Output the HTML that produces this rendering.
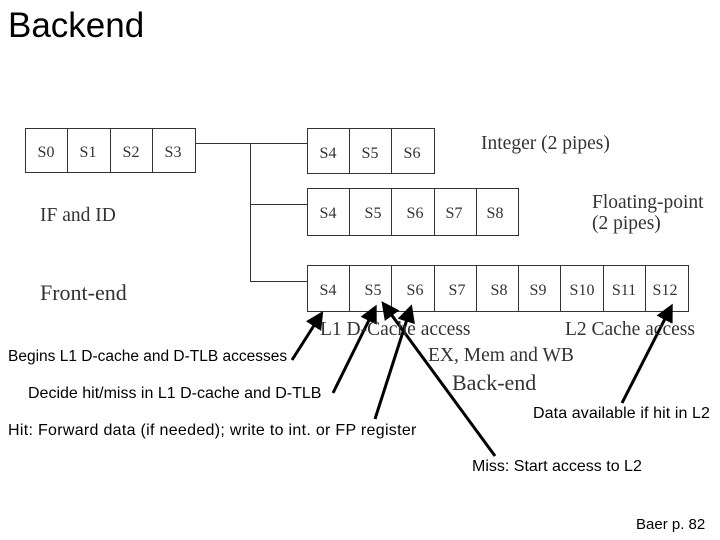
<!DOCTYPE html>
<html><head><style>
body{margin:0;width:720px;height:540px;background:#fff;position:relative;overflow:hidden;font-family:"Liberation Serif",serif;}
.t{position:absolute;white-space:nowrap;color:#333;}
.s{font-family:"Liberation Sans",sans-serif;color:#000;}
</style></head><body>
<div class="t s" style="left:8px;top:6px;font-size:35px;">Backend</div>
<svg width="720" height="540" style="position:absolute;left:0;top:0">
<defs><marker id="a" markerWidth="6" markerHeight="6" refX="4" refY="3" orient="auto"><path d="M0,0L6,3L0,6z" fill="#000"/></marker></defs>
<g stroke="#333" stroke-width="1" fill="none">
<rect x="25.5" y="128.5" width="170" height="44"/>
<line x1="67.5" y1="128" x2="67.5" y2="172"/><line x1="110.5" y1="128" x2="110.5" y2="172"/><line x1="152.5" y1="128" x2="152.5" y2="172"/>
<path d="M195 143.5H307M250.5 143V281.5H307M250 204.5H307"/>
<rect x="307.5" y="128.5" width="127" height="45"/>
<line x1="349.5" y1="128" x2="349.5" y2="173"/><line x1="391.5" y1="128" x2="391.5" y2="173"/>
<rect x="307.5" y="188.5" width="211" height="47"/>
<line x1="349.5" y1="188" x2="349.5" y2="235"/><line x1="391.5" y1="188" x2="391.5" y2="235"/><line x1="434.5" y1="188" x2="434.5" y2="235"/><line x1="476.5" y1="188" x2="476.5" y2="235"/>
<rect x="307.5" y="265.5" width="381" height="46"/>
<line x1="349.5" y1="265" x2="349.5" y2="311"/><line x1="391.5" y1="265" x2="391.5" y2="311"/><line x1="434.5" y1="265" x2="434.5" y2="311"/><line x1="476.5" y1="265" x2="476.5" y2="311"/><line x1="518.5" y1="265" x2="518.5" y2="311"/><line x1="560.5" y1="265" x2="560.5" y2="311"/><line x1="603.5" y1="265" x2="603.5" y2="311"/><line x1="645.5" y1="265" x2="645.5" y2="311"/>
</g>
<g font-family="Liberation Serif,serif" font-size="16" fill="#333" text-anchor="middle">
<text x="46" y="157">S0</text><text x="88" y="157">S1</text><text x="131" y="157">S2</text><text x="173" y="157">S3</text>
<text x="328" y="158">S4</text><text x="370" y="158">S5</text><text x="412" y="158">S6</text>
<text x="328" y="218">S4</text><text x="373" y="218">S5</text><text x="415" y="218">S6</text><text x="454" y="218">S7</text><text x="495" y="218">S8</text>
<text x="328" y="295">S4</text><text x="373" y="295">S5</text><text x="415" y="295">S6</text><text x="457" y="295">S7</text><text x="499" y="295">S8</text><text x="538" y="295">S9</text><text x="582" y="295">S10</text><text x="624" y="295">S11</text><text x="665" y="295">S12</text>
</g>
<g stroke="#000" stroke-width="3" marker-end="url(#a)">
<line x1="292" y1="360" x2="320" y2="316"/>
<line x1="333" y1="393" x2="374" y2="310"/>
<line x1="375" y1="419" x2="410" y2="310"/>
<line x1="495" y1="456" x2="385" y2="306"/>
<line x1="622" y1="403" x2="670" y2="309"/>
</g>
</svg>
<div class="t" style="left:481px;top:133px;font-size:19.5px;">Integer (2 pipes)</div>
<div class="t" style="left:592px;top:192px;font-size:19.5px;line-height:21px;">Floating-point<br>(2 pipes)</div>
<div class="t" style="left:40px;top:205px;font-size:19.5px;">IF and ID</div>
<div class="t" style="left:40px;top:280px;font-size:22px;">Front-end</div>
<div class="t" style="left:320px;top:319px;font-size:19.5px;">L1 D-Cache access</div>
<div class="t" style="left:565px;top:319px;font-size:19.5px;">L2 Cache access</div>
<div class="t" style="left:428px;top:345px;font-size:19.5px;">EX, Mem and WB</div>
<div class="t" style="left:452px;top:370px;font-size:22px;">Back-end</div>
<div class="t s" style="left:8px;top:348px;font-size:15.5px;">Begins L1 D-cache and D-TLB accesses</div>
<div class="t s" style="left:28px;top:385px;font-size:16px;">Decide hit/miss in L1 D-cache and D-TLB</div>
<div class="t s" style="left:8px;top:422px;font-size:16px;letter-spacing:0.3px;">Hit: Forward data (if needed); write to int. or FP register</div>
<div class="t s" style="left:533px;top:405px;font-size:16px;letter-spacing:0.1px;">Data available if hit in L2</div>
<div class="t s" style="left:472px;top:458px;font-size:16px;">Miss: Start access to L2</div>
<div class="t s" style="left:636px;top:516px;font-size:15px;">Baer p. 82</div>
</body></html>
